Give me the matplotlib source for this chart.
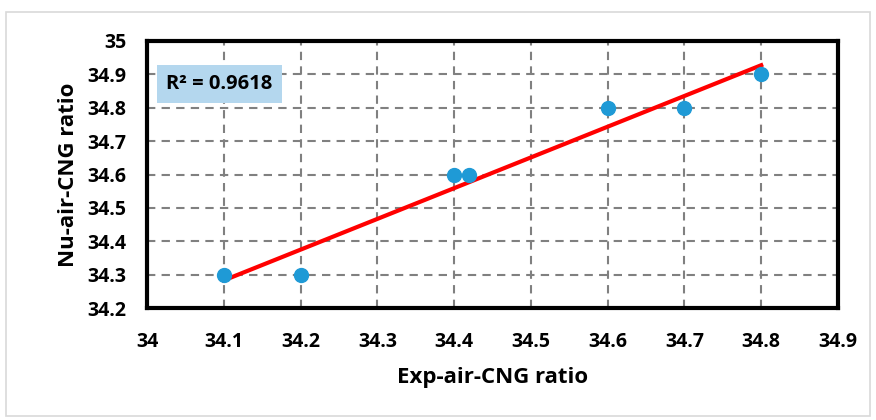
import numpy as np
import matplotlib.pyplot as plt
from matplotlib.patches import Rectangle

# Data
exp_ratio = [34.1, 34.2, 34.4, 34.42, 34.6, 34.7, 34.8]
nu_ratio = [34.3, 34.3, 34.6, 34.6, 34.8, 34.8, 34.9]
x_ticks = [34.0, 34.1, 34.2, 34.3, 34.4, 34.5, 34.6, 34.7, 34.8, 34.9]
x_tick_labels = ['34', '34.1', '34.2', '34.3', '34.4', '34.5', '34.6', '34.7', '34.8', '34.9']
y_ticks = [34.2, 34.3, 34.4, 34.5, 34.6, 34.7, 34.8, 34.9, 35.0]
y_tick_labels = ['34.2', '34.3', '34.4', '34.5', '34.6', '34.7', '34.8', '34.9', '35']
r2_label = 'R² = 0.9618'

plt.rcParams['font.family'] = ['Open Sans', 'DejaVu Sans']
plt.rcParams['font.weight'] = 'bold'

fig = plt.figure(figsize=(8.76, 4.2), dpi=100)
ax = fig.add_axes([147 / 876, 1 - 308 / 420, (838 - 147) / 876, (308 - 41) / 420])

# outer chart border
fig.patches.append(Rectangle((6 / 876, 4 / 420), 864 / 876, 404 / 420, transform=fig.transFigure,
                             fill=False, edgecolor='#d9d9d9', linewidth=1.2))

# linear trend line
slope, intercept = np.polyfit(exp_ratio, nu_ratio, 1)
xs = np.array([min(exp_ratio), max(exp_ratio)])
ax.plot(xs, slope * xs + intercept, color='#ff0000', linewidth=3, zorder=3)

ax.plot(exp_ratio, nu_ratio, 'o', color='#1f9ad6', markersize=10, zorder=4)

ax.set_xlim(34.0, 34.9)
ax.set_ylim(34.2, 35.0)
ax.set_xticks(x_ticks)
ax.set_xticklabels(x_tick_labels)
ax.set_yticks(y_ticks)
ax.set_yticklabels(y_tick_labels)
ax.tick_params(length=0, labelsize=14, pad=17)
ax.tick_params(axis='y', pad=15)
for lab in ax.get_xticklabels() + ax.get_yticklabels():
    lab.set_fontweight('bold')

ax.grid(True, linestyle=(0, (4, 3)), color='#808080', linewidth=1.5)
for s in ax.spines.values():
    s.set_linewidth(3)
    s.set_color('black')

ax.set_xlabel('Exp-air-CNG ratio', fontsize=16, fontweight='bold', labelpad=11)
ax.set_ylabel('Nu-air-CNG ratio', fontsize=16, fontweight='bold', labelpad=6)

ax.text(0.105, 0.84, r2_label, transform=ax.transAxes, fontsize=14.5, fontweight='bold',
        ha='center', va='center', zorder=5,
        bbox=dict(boxstyle='square,pad=0.45', facecolor='#b4d7ee', edgecolor='none'))

fig.savefig('out.png', dpi=100)
